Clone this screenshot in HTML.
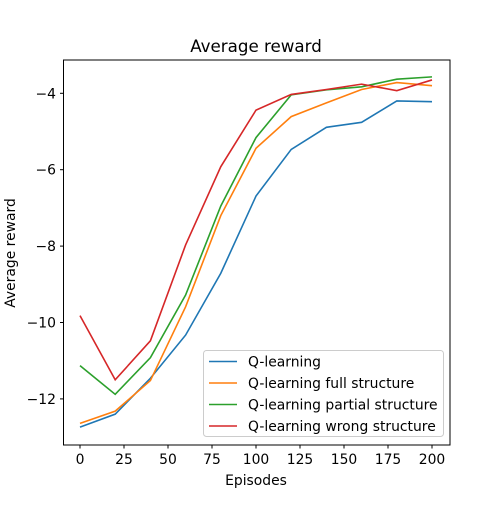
<!DOCTYPE html>
<html><head><meta charset="utf-8"><style>body{margin:0;background:#fff}svg{font-family:"DejaVu Sans","Liberation Sans",sans-serif}</style></head>
<body>
<svg id="chart" width="500" height="500">
<rect width="500" height="500" fill="#fff"/>
<text x="256" y="52" font-size="16.7" text-anchor="middle">Average reward</text>
<g id="plot"></g>
<rect x="63.5" y="60" width="386.5" height="385" fill="none" stroke="#000" stroke-width="1"/>
<text x="256" y="485" font-size="13.9" text-anchor="middle">Episodes</text>
<text transform="translate(15,253) rotate(-90)" font-size="13.9" text-anchor="middle">Average reward</text>
<g id="legend"></g>
</svg>
<script>
const episodes=[0,20,40,60,80,100,120,140,160,180,200];
const qLearning=[-12.74,-12.40,-11.46,-10.33,-8.71,-6.69,-5.47,-4.89,-4.76,-4.20,-4.22];
const qFull=[-12.64,-12.32,-11.52,-9.59,-7.20,-5.44,-4.61,-4.25,-3.90,-3.72,-3.80];
const qPartial=[-11.13,-11.88,-10.92,-9.28,-6.95,-5.16,-4.04,-3.91,-3.83,-3.63,-3.57];
const qWrong=[-9.82,-11.50,-10.48,-7.97,-5.92,-4.44,-4.03,-3.90,-3.76,-3.93,-3.65];
const seriesNames=["Q-learning","Q-learning full structure","Q-learning partial structure","Q-learning wrong structure"];
const xTicks=[0,25,50,75,100,125,150,175,200];
const yTicks=[-4,-6,-8,-10,-12];
const colors=["#1f77b4","#ff7f0e","#2ca02c","#d62728"];
const NS="http://www.w3.org/2000/svg";
const xs=v=>80+v*1.76;
const ys=v=>93.3+(-4-v)*38.2;
const plot=document.getElementById('plot');
function mk(t,a,p){const e=document.createElementNS(NS,t);for(const k in a)e.setAttribute(k,a[k]);(p||plot).appendChild(e);return e;}
xTicks.forEach(t=>{
  const l=mk('line',{x1:xs(t),x2:xs(t),y1:445,y2:448.5,stroke:'#000'});
  
  
  const tx=mk('text',{x:xs(t),y:464,'font-size':13.9,'text-anchor':'middle'});tx.textContent=t;
  
  
});
yTicks.forEach(t=>{
  const l=mk('line',{x1:60,x2:63.5,y1:ys(t),y2:ys(t),stroke:'#000'});
  
  
  const tx=mk('text',{x:56,y:ys(t)+5,'font-size':13.9,'text-anchor':'end'});tx.textContent='\u2212'+Math.abs(t);
  
  
});
[qLearning,qFull,qPartial,qWrong].forEach((s,i)=>{
  const p=mk('polyline',{points:s.map((v,j)=>xs(episodes[j])+','+ys(v)).join(' '),fill:'none',stroke:colors[i],'stroke-width':1.6});
  
  
});
const lg=document.getElementById('legend');
const box=mk('rect',{x:203.5,y:350.5,width:240,height:86,rx:3,fill:'#fff','fill-opacity':0.8,stroke:'#ccc'},lg);


seriesNames.forEach((n,i)=>{
  const y=361.5+i*21.5;
  const l=mk('line',{x1:209,x2:237,y1:y,y2:y,stroke:colors[i],'stroke-width':1.6},lg);
  
  
  const t=mk('text',{x:248,y:y+5,'font-size':13.9},lg);t.textContent=n;
  
  
});
</script>
</body></html>
